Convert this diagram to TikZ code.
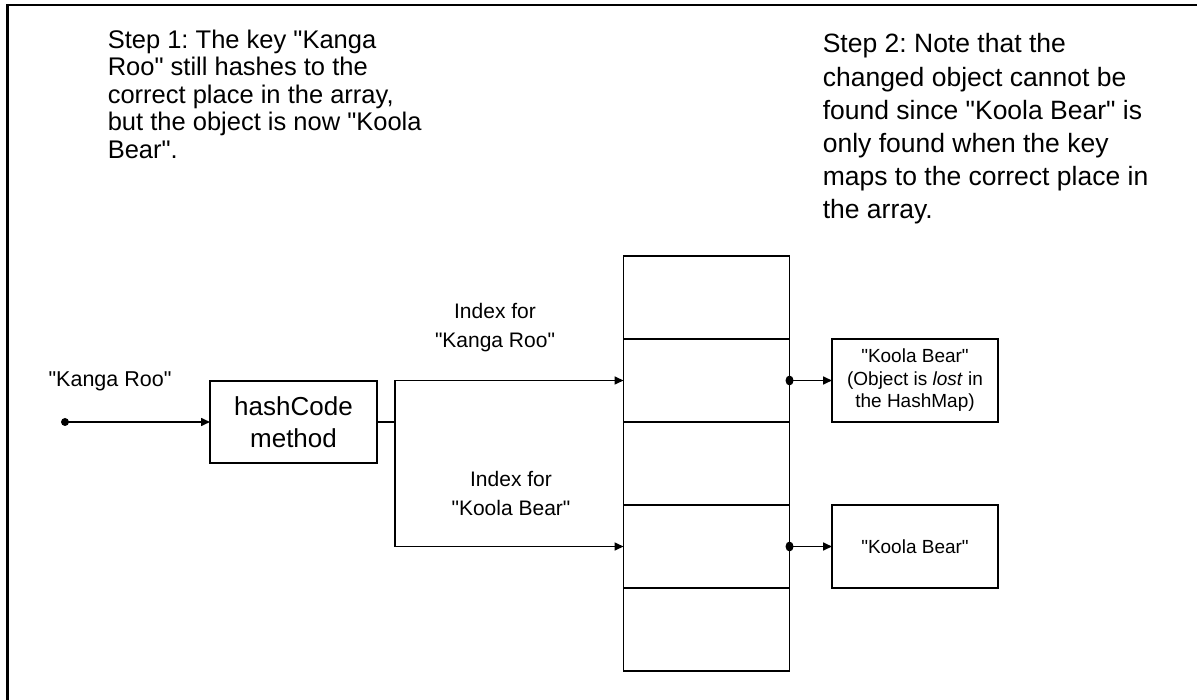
\documentclass[tikz,border=0pt]{standalone}
\usepackage{fontspec}
\setmainfont{Liberation Sans}[Ligatures=TeXOff]
\frenchspacing
\usetikzlibrary{arrows.meta,shapes.geometric}
\begin{document}
\begin{tikzpicture}[x=1pt,y=-1pt,
  line width=1.6pt,
  cell/.style={draw, line width=1.6pt, minimum width=166pt, minimum height=83pt, inner sep=0pt, outer sep=0pt},
  objbox/.style={cell, align=center, font=\fontsize{19}{22.5}\selectfont},
  hashbox/.style={cell, minimum width=167pt, minimum height=82pt, align=center, font=\fontsize{26}{32}\selectfont},
  arr/.style={-{Triangle[length=9pt,width=8pt]}},
  steptext/.style={anchor=north west, align=left, inner sep=0pt},
  idxtext/.style={align=center, inner sep=0pt, font=\fontsize{21}{29}\selectfont},
  dot/.style={circle, fill, inner sep=0pt, minimum size=8pt},
  edot/.style={ellipse, fill, inner sep=0pt, minimum width=8pt, minimum height=10pt}
]
\useasboundingbox (0,0) rectangle (1197,700);
% frame (top and left edges)
\draw[line width=2.5pt] (7.5,700) -- (7.5,5) -- (1197,5);

% step texts
\node[steptext, font=\fontsize{25.5}{27.5}\selectfont] (step1) at (107,29)
  {Step 1: The key "Kanga\\Roo" still hashes to the\\correct place in the array,\\but the object is now "Koola\\Bear".};
\node[steptext, font=\fontsize{26.5}{33.2}\selectfont] (step2) at (822,33)
  {Step 2: Note that the\\changed object cannot be\\found since "Koola Bear" is\\only found when the key\\maps to the correct place in\\the array.};

% input
\node[dot] (start) at (65,422) {};
\node[inner sep=0pt, font=\fontsize{21.5}{25}\selectfont] (keylbl) at (110,381) {"Kanga Roo"};
\node[hashbox] (hash) at (293.5,422) {hashCode\\method};
\coordinate (split) at (395,422);

% array
\node[cell] (c1) at (706.5,297.5) {};
\node[cell] (c2) at (706.5,380.5) {};
\node[cell] (c3) at (706.5,463.5) {};
\node[cell] (c4) at (706.5,546.5) {};
\node[cell] (c5) at (706.5,629.5) {};

% objects
\node[objbox] (obj1) at (915,380.5) {"Koola Bear"\\(Object is \textit{lost} in\\the HashMap)};
\node[objbox] (obj2) at (915,546.5) {"Koola Bear"};

% index labels
\node[idxtext] (idx1) at (495,327.5) {Index for\\"Kanga Roo"};
\node[idxtext] (idx2) at (511,493) {Index for\\"Koola Bear"};

% connectors
\draw[arr] (start.center) -- (hash.west);
\draw (hash.east) -- (split);
\draw[arr] (split) |- (c2.west);
\draw[arr] (split) |- (c4.west);
\node[edot] (d1) at (c2.east) {};
\node[edot] (d2) at (c4.east) {};
\draw[arr] (d1.center) -- (obj1.west);
\draw[arr] (d2.center) -- (obj2.west);
\end{tikzpicture}
\end{document}
